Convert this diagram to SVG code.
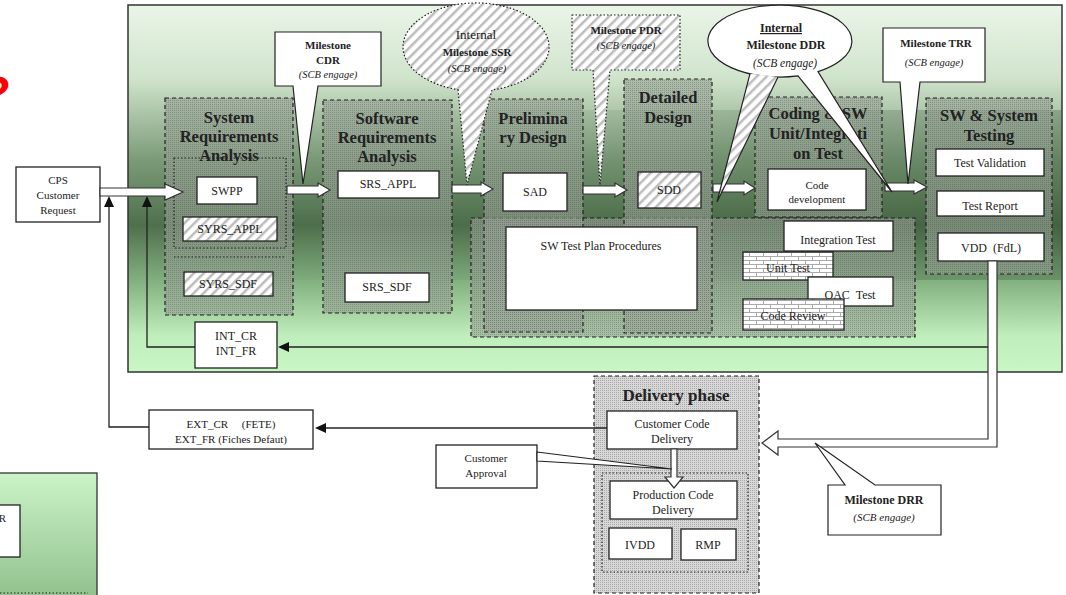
<svg xmlns="http://www.w3.org/2000/svg" width="1066" height="595" viewBox="0 0 1066 595">
<defs>
<linearGradient id="bg" x1="0" y1="0" x2="0" y2="1">
 <stop offset="0" stop-color="#eaf5e8"/>
 <stop offset="0.2" stop-color="#d0e4cc"/>
 <stop offset="0.42" stop-color="#7c9c79"/>
 <stop offset="0.6" stop-color="#4f704d"/>
 <stop offset="0.76" stop-color="#86b483"/>
 <stop offset="0.9" stop-color="#bfeebc"/>
 <stop offset="1" stop-color="#c8f6c4"/>
</linearGradient>
<linearGradient id="shade" x1="0" y1="0" x2="1" y2="0">
 <stop offset="0" stop-color="#1e3a1e" stop-opacity="0"/>
 <stop offset="0.5" stop-color="#1e3a1e" stop-opacity="0.08"/>
 <stop offset="1" stop-color="#1e3a1e" stop-opacity="0.25"/>
</linearGradient>
<linearGradient id="bg2" x1="0" y1="0" x2="0" y2="1">
 <stop offset="0" stop-color="#cbf3c7"/>
 <stop offset="1" stop-color="#8fbf8b"/>
</linearGradient>
<pattern id="stip" width="2" height="2" patternUnits="userSpaceOnUse">
 <rect width="2" height="2" fill="#9aa398" fill-opacity="0.62"/>
 <rect width="1" height="1" fill="#3c443a" fill-opacity="0.3"/>
</pattern>
<pattern id="stipg" width="2" height="2" patternUnits="userSpaceOnUse">
 <rect width="2" height="2" fill="#d8d8d8"/>
 <rect width="1" height="1" fill="#a8a8a8"/>
</pattern>
<pattern id="hatch" width="7" height="7" patternUnits="userSpaceOnUse" patternTransform="rotate(45)">
 <rect width="7" height="7" fill="#ffffff"/>
 <rect width="2.5" height="7" fill="#bcbcbc"/>
</pattern>
<pattern id="brick" width="14" height="8" patternUnits="userSpaceOnUse">
 <rect width="14" height="8" fill="#fff"/>
 <path d="M0,0.5H14M0,4.5H14M0.5,0.5V4.5M7.5,4.5V8" stroke="#aaa" stroke-width="1" fill="none"/>
</pattern>
<style>
.phase{fill:url(#stip);stroke:#222;stroke-width:1.2;stroke-dasharray:4 3}
.box{fill:#fff;stroke:#222;stroke-width:1.3}
.hbox{fill:url(#hatch);stroke:#222;stroke-width:1.3}
.bbox{fill:url(#brick);stroke:#222;stroke-width:1.3}
.dot{fill:none;stroke:#222;stroke-width:1.2;stroke-dasharray:1.5 2}
.t{font-family:"Liberation Serif",serif;font-size:12px;fill:#222;text-anchor:middle}
.s{font-size:11px}
.title{font-family:"Liberation Serif",serif;font-size:16.5px;font-weight:bold;fill:#222;text-anchor:middle}
.ms{font-weight:bold;font-size:11px}
.it{font-style:italic;font-size:10.5px}
.blk{fill:#fff;stroke:#333;stroke-width:1.2}
.ln{fill:none;stroke:#222;stroke-width:1.3}
.ah{fill:#111}
.co{fill:#fff;stroke:#222;stroke-width:1.2}
.coh{fill:url(#hatch);stroke:#222;stroke-width:1.2;stroke-dasharray:1.5 2}
</style>
</defs>
<rect width="1066" height="595" fill="#fff"/>
<text x="-20" y="110" font-family="Liberation Sans" font-weight="bold" font-style="italic" font-size="48" fill="#ff0000">?</text>

<g id="n-leftpanel">
 <rect x="-2" y="473" width="99" height="130" fill="url(#bg2)" stroke="#333" stroke-width="1.3"/>
 <rect x="-2" y="505" width="22" height="52" class="box"/>
 <text x="6" y="522" class="t s" style="text-anchor:end">R</text>
 <line x1="0" y1="593" x2="88" y2="593" class="dot"/>
</g>

<g id="n-main">
 <rect x="128" y="5" width="934" height="367" fill="url(#bg)" stroke="#333" stroke-width="1.5"/>
 <rect x="129" y="110" width="932" height="170" fill="url(#shade)"/>
</g>

<g id="n-sysreq">
 <rect x="165" y="98" width="128" height="217" class="phase"/>
 <text class="title" x="229" y="123">System</text>
 <text class="title" x="229" y="142">Requirements</text>
 <text class="title" x="229" y="161">Analysis</text>
 <rect x="174" y="158" width="112" height="90" class="dot"/>
 <line x1="174" y1="257" x2="286" y2="257" class="dot"/>
 <rect x="197" y="177" width="60" height="27" class="box"/>
 <text class="t" x="227" y="195">SWPP</text>
 <rect x="183" y="217" width="94" height="24" class="hbox"/>
 <text class="t" x="230" y="233">SYRS_APPL</text>
 <rect x="184" y="272" width="89" height="24" class="hbox"/>
 <text class="t" x="228" y="288">SYRS_SDF</text>
</g>

<g id="n-swreq">
 <rect x="323" y="100" width="129" height="213" class="phase"/>
 <text class="title" x="387" y="124">Software</text>
 <text class="title" x="387" y="143">Requirements</text>
 <text class="title" x="387" y="162">Analysis</text>
 <rect x="338" y="171" width="101" height="27" class="box"/>
 <text class="t" x="388" y="188">SRS_APPL</text>
 <rect x="345" y="273" width="84" height="29" class="box"/>
 <text class="t" x="387" y="291">SRS_SDF</text>
</g>

<g id="n-testplan">
 <rect x="471" y="218" width="444" height="119" class="phase"/>
</g>

<g id="n-prelim">
 <rect x="484" y="99" width="99" height="233" class="phase"/>
 <text class="title" x="533" y="124">Prelimina</text>
 <text class="title" x="533" y="143">ry Design</text>
 <rect x="503" y="173" width="64" height="38" class="box"/>
 <text class="t" x="535" y="196">SAD</text>
</g>

<g id="n-detailed">
 <rect x="624" y="79" width="88" height="254" class="phase"/>
 <text class="title" x="668" y="103">Detailed</text>
 <text class="title" x="668" y="123">Design</text>
 <rect x="638" y="172" width="63" height="36" class="hbox"/>
 <text class="t" x="669" y="194">SDD</text>
</g>

<g id="n-swtestplan">
 <rect x="506" y="227" width="191" height="83" class="box"/>
 <text class="t" x="601" y="250">SW Test Plan Procedures</text>
</g>

<g id="n-coding">
 <rect x="755" y="97" width="127" height="120" class="phase"/>
 <text class="title" x="818" y="119">Coding &amp; SW</text>
 <text class="title" x="818" y="139">Unit/Integrati</text>
 <text class="title" x="818" y="159">on Test</text>
 <rect x="768" y="169" width="98" height="41" class="box"/>
 <text class="t s" x="817" y="189">Code</text>
 <text class="t s" x="817" y="203">development</text>
 <rect x="784" y="221" width="109" height="30" class="box"/>
 <text class="t" x="838" y="244">Integration Test</text>
 <rect x="743" y="252" width="90" height="28" class="bbox"/>
 <text class="t" x="788" y="272">Unit Test</text>
 <rect x="808" y="277" width="85" height="29" class="box"/>
 <text class="t" x="850" y="299" xml:space="preserve">OAC  Test</text>
 <rect x="743" y="299" width="101" height="31" class="bbox"/>
 <text class="t" x="793" y="320">Code Review</text>
</g>

<g id="n-testing">
 <rect x="926" y="98" width="126" height="176" class="phase"/>
 <text class="title" x="989" y="121">SW &amp; System</text>
 <text class="title" x="989" y="141">Testing</text>
 <rect x="936" y="149" width="108" height="27" class="box"/>
 <text class="t" x="990" y="167">Test Validation</text>
 <rect x="937" y="191" width="107" height="25" class="box"/>
 <text class="t" x="990" y="210">Test Report</text>
 <rect x="938" y="233" width="106" height="28" class="box"/>
 <text class="t" x="991" y="252" xml:space="preserve">VDD  (FdL)</text>
</g>

<g id="n-cps">
 <rect x="16" y="167" width="84" height="55" class="box"/>
 <text class="t s" x="58" y="184">CPS</text>
 <text class="t s" x="58" y="199">Customer</text>
 <text class="t s" x="58" y="214">Request</text>
</g>

<g id="n-int">
 <rect x="195" y="322" width="82" height="46" class="box"/>
 <text class="t" x="236" y="340">INT_CR</text>
 <text class="t" x="236" y="355">INT_FR</text>
</g>

<g id="n-ext">
 <rect x="149" y="410" width="164" height="39" class="box"/>
 <text class="t s" x="231" y="428" xml:space="preserve">EXT_CR     (FETE)</text>
 <text class="t s" x="231" y="443">EXT_FR  (Fiches Defaut)</text>
</g>

<g id="n-delivery">
 <rect x="594" y="376" width="165" height="217" fill="url(#stipg)" stroke="#222" stroke-width="1.2" stroke-dasharray="4 3"/>
 <text class="title" x="676" y="401" style="font-size:17px">Delivery phase</text>
 <rect x="607" y="411" width="130" height="38" class="box"/>
 <text class="t" x="672" y="428">Customer Code</text>
 <text class="t" x="672" y="443">Delivery</text>
 <rect x="602" y="473" width="146" height="99" class="dot"/>
 <rect x="610" y="481" width="127" height="38" class="box"/>
 <text class="t" x="673" y="499">Production Code</text>
 <text class="t" x="673" y="514">Delivery</text>
 <rect x="609" y="528" width="63" height="31" class="box"/>
 <text class="t" x="640" y="549">IVDD</text>
 <rect x="681" y="529" width="55" height="31" class="box"/>
 <text class="t" x="708" y="549">RMP</text>
</g>

<g id="n-approval">
 <rect x="436" y="445" width="101" height="43" class="box"/>
 <text class="t s" x="486" y="462">Customer</text>
 <text class="t s" x="486" y="477">Approval</text>
</g>

<g id="connectors">
 <polygon class="blk" points="100,188 165,188 165,184 183,192 165,200 165,196 100,196"/>
 <polygon class="blk" points="287,186 318,186 318,183 330,190 318,197 318,194 287,194"/>
 <polygon class="blk" points="452,185 481,185 481,182 493,189 481,196 481,193 452,193"/>
 <polygon class="blk" points="583,186 615,186 615,183 627,190 615,197 615,194 583,194"/>
 <polygon class="blk" points="713,184 744,184 744,181 755,188 744,195 744,192 713,192"/>
 <polygon class="blk" points="885,183 914,183 914,180 927,187 914,194 914,191 885,191"/>
 <path class="ln" d="M149,427 H109 V207"/>
 <polygon class="ah" points="104,207 114,207 109,196"/>
 <path class="ln" d="M195,347 H147 V207"/>
 <polygon class="ah" points="142,207 152,207 147,196"/>
 <path class="ln" d="M988,347 H289"/>
 <polygon class="ah" points="289,342 289,352 278,347"/>
 <path class="ln" d="M607,428 H326"/>
 <polygon class="ah" points="326,423 326,433 315,428"/>
 <polygon class="blk" points="997,261 997,447 778,447 778,455 762,443 778,431 778,439 988,439 988,261"/>
 <polygon class="blk" points="671,449 677,449 677,477 683,477 674,488 665,477 671,477"/>
 <polygon class="co" points="537,452 672,469 537,461"/>
</g>

<g id="n-cdr">
 <path class="co" d="M275,32 H381 V86 H318 L303,184 L293,86 H275 Z"/>
 <text class="t ms" x="328" y="49">Milestone</text>
 <text class="t ms" x="328" y="64">CDR</text>
 <text class="t it" x="328" y="78">(SCB engage)</text>
</g>

<g id="n-ssr">
 <path class="coh" d="M458,89.6 L467,185 L492,89.9 A73,44 0 1,0 458,89.6 Z"/>
 <text class="t" x="476" y="39" style="font-size:13px">Internal</text>
 <text class="t ms" x="477" y="56">Milestone SSR</text>
 <text class="t it" x="477" y="72">(SCB engage)</text>
</g>

<g id="n-pdr">
 <path class="coh" d="M572,15 H680 V70 H610 L600,185 L593,70 H572 Z"/>
 <text class="t ms" x="626" y="34">Milestone PDR</text>
 <text class="t it" x="626" y="49">(SCB engage)</text>
</g>

<g id="n-ddr">
 <path class="co" d="M798,75.9 L892,192 L818,71.6 A72,36 0 1,0 798,75.9 Z"/>
 <path d="M750,73.7 L717,202 L778,77" fill="url(#hatch)" stroke="#222" stroke-width="1.2"/>
 <text class="t ms" x="781" y="32" style="font-size:12px;text-decoration:underline">Internal</text>
 <text class="t ms" x="786" y="49" style="font-size:12px">Milestone  DDR</text>
 <text class="t it" x="785" y="67" style="font-size:11.5px">(SCB engage)</text>
</g>

<g id="n-trr">
 <path class="co" d="M883,28 H985 V82 H920 L908,184 L900,82 H883 Z"/>
 <text class="t ms" x="936" y="47">Milestone TRR</text>
 <text class="t it" x="934" y="66">(SCB engage)</text>
</g>

<g id="n-drr">
 <path class="co" d="M828,485 H845 L815,443 L875,485 H941 V535 H828 Z"/>
 <text class="t ms" x="884" y="504" style="font-size:12px">Milestone DRR</text>
 <text class="t it" x="884" y="521" style="font-size:11px">(SCB engage)</text>
</g>
</svg>
